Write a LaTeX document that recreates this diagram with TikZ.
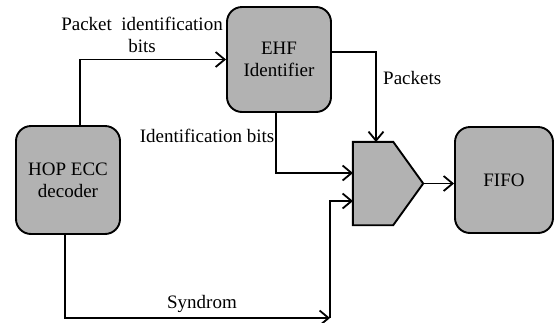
\documentclass[tikz,border=0pt]{standalone}
\usepackage{fontspec}
\setmainfont{Liberation Serif}
\newfontfamily\labelfont{Liberation Serif}
\usetikzlibrary{arrows.meta}
\definecolor{blockfill}{RGB}{178,178,178}
\tikzset{
  block/.style={draw=black, line width=1.9pt, fill=blockfill, rounded corners=15pt,
    align=center, inner sep=0pt, font=\labelfont\fontsize{19}{22}\selectfont},
  wire/.style={draw=black, line width=1.8pt},
  arr/.style={wire, -{Straight Barb[length=9pt,width=15pt,line width=1.8pt]}},
  lbl/.style={inner sep=0pt, font=\labelfont\fontsize{19}{22}\selectfont}
}
\begin{document}
\begin{tikzpicture}[x=1pt,y=-1pt]
\useasboundingbox (0,0) rectangle (555,322);

% processing blocks
\node[block, minimum width=104pt, minimum height=108pt] (hop) at (68,180) {HOP ECC\\decoder};
\node[block, minimum width=104pt, minimum height=105pt] (ehf) at (279,59.5) {EHF\\Identifier};
\node[block, minimum width=98pt, minimum height=106pt] (fifo) at (504,180) {FIFO};

% multiplexer outline
\node[minimum width=70pt, minimum height=83pt, inner sep=0pt] (mux) at (388,183.5) {};
\draw[line width=1.9pt, fill=blockfill, line join=miter]
  (mux.north west) -- ([xshift=-30pt]mux.north east) -- (mux.east)
  -- ([xshift=-30pt]mux.south east) -- (mux.south west) -- cycle;

% connection points
\coordinate (inA) at (353,173);
\coordinate (inB) at (353,201);
\coordinate (synd) at (330,318);
\coordinate (pk) at (376,142);

% connectors
\draw[arr] ([xshift=12pt]hop.north) |- (ehf.west);
\draw[arr] ([xshift=-3pt]hop.south) |- (synd);
\draw[arr] (synd) |- (inB);
\draw[arr] ([xshift=-3pt]ehf.south) |- (inA);
\draw[arr] ([yshift=7.5pt]ehf.east) -| (pk);
\draw[arr] (mux.east) -- (mux.east -| fifo.west);

% labels
\node[lbl, align=center] (lpib) at (142,35) {Packet\ \ identification\\bits};
\node[lbl, anchor=base west] (lpk) at (383,84) {Packets};
\node[lbl, anchor=base east] (lib) at (274.5,142) {Identification bits};
\node[lbl, anchor=base] (lsy) at (202,308) {Syndrom};
\end{tikzpicture}
\end{document}
